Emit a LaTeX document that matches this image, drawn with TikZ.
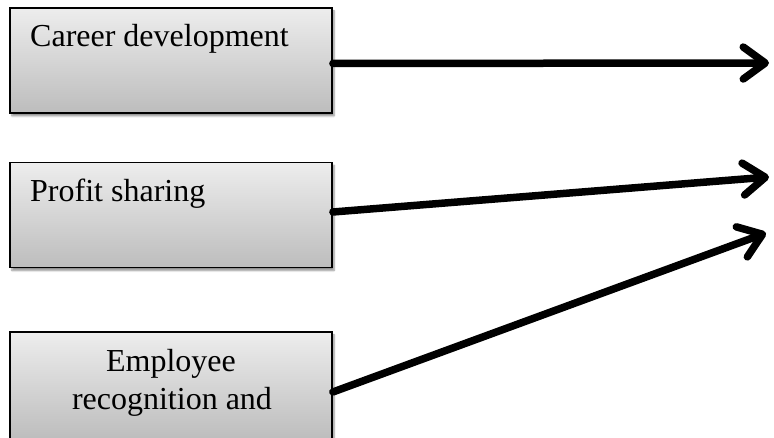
\documentclass[tikz,border=0pt]{standalone}
\usepackage{fontspec}
\setmainfont{Liberation Serif}
\usetikzlibrary{arrows.meta,calc,shadows.blur}

\tikzset{
  box/.style={draw=black, line width=1.8pt, rectangle,
    minimum width=322pt, minimum height=105pt, inner sep=0pt,
    top color=gray!14, bottom color=gray!52,
    blur shadow={shadow xshift=2pt, shadow yshift=-3pt,
      shadow blur steps=6, shadow opacity=45}},
  lbl/.style={inner sep=0pt, font=\fontsize{32}{38}\selectfont},
  link/.style={line width=7.5pt, line cap=round,
    -{Straight Barb[round, length=22pt, width=32pt]}},
}

\begin{document}
\begin{tikzpicture}[x=1pt, y=1pt]
  \useasboundingbox (0,0) rectangle (774,438);
  \clip (0,0) rectangle (774,438);

  % the three source boxes
  \node[box] (b1) at (171,377.5) {};
  \node[box] (b2) at (171,223) {};
  \node[box, minimum height=108pt] (b3) at (171,52) {};

  % box captions
  \node[lbl, anchor=base west] (t1) at (30,391) {Career development};
  \node[lbl, anchor=base west] (t2) at (30,236) {Profit sharing};
  \node[lbl, anchor=base] (t3a) at (171,66) {Employee};
  \node[lbl, anchor=base] (t3b) at (172,28) {recognition and};

  % arrow end points at the right margin
  \coordinate (e1) at (769,375);
  \coordinate (e2) at (769,261);
  \coordinate (e3) at (766,205);

  % connectors
  \draw[link] ($(b1.east)+(0,-3)$) -- (e1);
  \draw[link] ($(b2.east)+(0,3)$) -- (e2);
  \draw[link] ($(b3.east)+(0,-6)$) -- (e3);
\end{tikzpicture}
\end{document}
